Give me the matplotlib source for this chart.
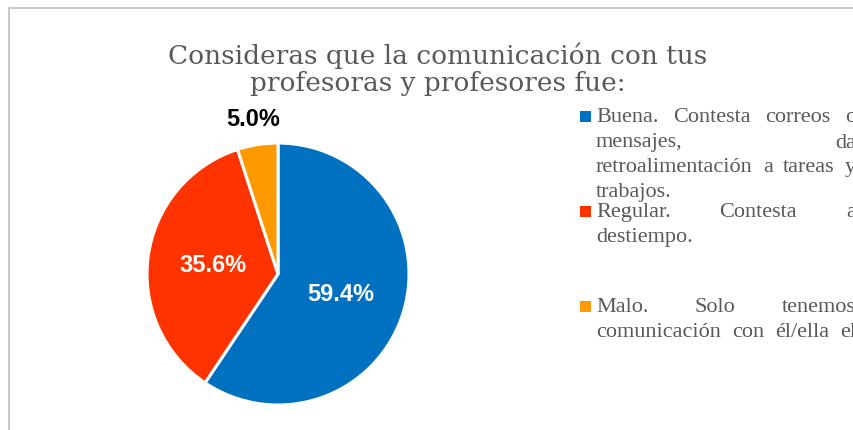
import matplotlib
matplotlib.use("Agg")
from matplotlib import pyplot as plt
from matplotlib.patches import Rectangle
from matplotlib.lines import Line2D


# Chart data
TITLE = "Consideras que la comunicación con tus\nprofesoras y profesores fue:"
CATEGORIES = [
    "Buena. Contesta correos o mensajes, da retroalimentación a tareas y trabajos.",
    "Regular. Contesta a destiempo.",
    "Malo. Solo tenemos comunicación con él/ella el",
]
VALUES = [59.4, 35.6, 5.0]
COLORS = ["#0070C0", "#FF3300", "#FF9900"]

# Legend text as it wraps in the original (lines per entry)
LEGEND_LINES = [
    ["Buena. Contesta correos o", "mensajes, da", "retroalimentación a tareas y", "trabajos."],
    ["Regular. Contesta a", "destiempo."],
    ["Malo. Solo tenemos", "comunicación con él/ella el"],
]
LEGEND_TOPS = [118, 213, 308]

W, H = 854, 431
SERIF = "DejaVu Serif"
LEG_FONT = "Liberation Serif"
GREY = "#595959"


def px(x, y):
    # pixel (from top-left) to figure fraction
    return x / W, 1 - y / H


fig = plt.figure(figsize=(W / 100, H / 100), dpi=100)

# Chart area border (only top and left visible)
fig.add_artist(Line2D([9 / W, 9 / W, 1], [0, 1 - 9 / H, 1 - 9 / H],
                      transform=fig.transFigure, color="#BFBFBF", lw=1.2))

# Title
fig.text(*px(438, 69), TITLE, ha="center", va="center", fontsize=19,
         family=SERIF, color=GREY, linespacing=1.1)

# Pie
ax = fig.add_axes([147 / W, (H - 406) / H, 262 / W, 262 / H])
wedges, texts, autotexts = ax.pie(
    VALUES, colors=COLORS, startangle=90, counterclock=False,
    autopct="%.1f%%", pctdistance=0.5,
    wedgeprops=dict(edgecolor="white", linewidth=2.2),
    textprops=dict(fontsize=17, fontweight="bold", color="white",
                   family="Liberation Sans"),
)
ax.set_xlim(-1.0, 1.0)
ax.set_ylim(-1.0, 1.0)
ax.set_aspect("equal")

# Small slice label goes outside the pie
x, y = autotexts[2].get_position()
autotexts[2].set_position((x * 1.2 / 0.5, y * 1.2 / 0.5))
autotexts[2].set_color("black")

# Legend with justified text, clipped at the right edge like the original
fig.canvas.draw()
renderer = fig.canvas.get_renderer()
x0, x1 = 596, 856
line_h = 25
for color, lines, top in zip(COLORS, LEGEND_LINES, LEGEND_TOPS):
    fig.add_artist(Rectangle(px(580, top + 5), 11 / W, 11 / H,
                             transform=fig.transFigure, color=color, lw=0))
    for i, line in enumerate(lines):
        yy = top + i * line_h
        words = line.split()
        last = (i == len(lines) - 1) and not line.endswith("el")
        if last or len(words) == 1:
            fig.text(*px(x0, yy), line, ha="left", va="center", fontsize=16,
                     family=LEG_FONT, color=GREY)
            continue
        arts = [fig.text(0, 0, w, fontsize=16, family=LEG_FONT, color=GREY,
                         va="center") for w in words]
        widths = [a.get_window_extent(renderer).width for a in arts]
        gap = (x1 - x0 - sum(widths)) / (len(words) - 1)
        xx = x0
        for a, wd in zip(arts, widths):
            a.set_position(px(xx, yy))
            xx += wd + gap

fig.savefig("out.png", dpi=100)
